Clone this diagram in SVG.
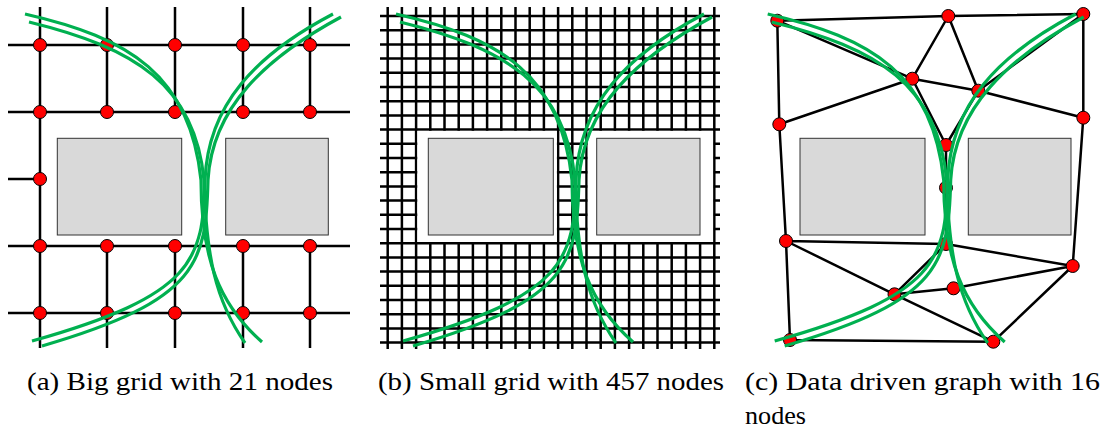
<svg xmlns="http://www.w3.org/2000/svg" xmlns:xlink="http://www.w3.org/1999/xlink" width="1107" height="430" viewBox="0 0 1107 430">
<style>
.edge{stroke:#000;stroke-width:2.5;fill:none;stroke-linecap:butt}
.obst{fill:#d9d9d9;stroke:#333;stroke-width:1}
.pad{fill:#fff;stroke:none}
.node{fill:#ff0000;stroke:#000;stroke-width:1}
.path{fill:none;stroke:#00b050;stroke-width:3.2}
.cap{font-family:"Liberation Serif","Times New Roman",serif;font-size:26px;fill:#000}
</style>
<defs>
<g id="curves">
<path class="path" d="M25,14 C130,38 190,75 201,180 C201,260 220,305 262,342"/>
<path class="path" d="M29,22 C135,48 195,85 204,180 C206,255 215,300 245,343"/>
<path class="path" d="M333,14 C255,55 208,105 205,180 C203,260 195,295 32,341"/>
<path class="path" d="M341,17 C265,58 212,108 208,180 C206,262 200,300 42,346"/>
</g>
</defs>

<!-- Panel (a) -->
<g id="panel-a">
<g id="connectors-a">
<path class="edge" d="M8,45H350M8,112H350M8,179H40M8,246H350M8,313H350"/>
<path class="edge" d="M40,7V348M107,7V112M107,246V348M175,7V112M175,246V348M243,7V112M243,246V348M310,7V112M310,246V348"/>
</g>
<rect id="obstacle-a1" class="obst" x="57.3" y="138.3" width="124.4" height="96.7"/>
<rect id="obstacle-a2" class="obst" x="225.7" y="138.3" width="102.6" height="96.7"/>
<g id="nodes-a">
<g id="a-n1"><circle class="node" cx="40" cy="45" r="6.5"/></g>
<g id="a-n2"><circle class="node" cx="107" cy="45" r="6.5"/></g>
<g id="a-n3"><circle class="node" cx="175" cy="45" r="6.5"/></g>
<g id="a-n4"><circle class="node" cx="243" cy="45" r="6.5"/></g>
<g id="a-n5"><circle class="node" cx="310" cy="45" r="6.5"/></g>
<g id="a-n6"><circle class="node" cx="40" cy="112" r="6.5"/></g>
<g id="a-n7"><circle class="node" cx="107" cy="112" r="6.5"/></g>
<g id="a-n8"><circle class="node" cx="175" cy="112" r="6.5"/></g>
<g id="a-n9"><circle class="node" cx="243" cy="112" r="6.5"/></g>
<g id="a-n10"><circle class="node" cx="310" cy="112" r="6.5"/></g>
<g id="a-n11"><circle class="node" cx="40" cy="179" r="6.5"/></g>
<g id="a-n12"><circle class="node" cx="40" cy="246" r="6.5"/></g>
<g id="a-n13"><circle class="node" cx="107" cy="246" r="6.5"/></g>
<g id="a-n14"><circle class="node" cx="175" cy="246" r="6.5"/></g>
<g id="a-n15"><circle class="node" cx="243" cy="246" r="6.5"/></g>
<g id="a-n16"><circle class="node" cx="310" cy="246" r="6.5"/></g>
<g id="a-n17"><circle class="node" cx="40" cy="313" r="6.5"/></g>
<g id="a-n18"><circle class="node" cx="107" cy="313" r="6.5"/></g>
<g id="a-n19"><circle class="node" cx="175" cy="313" r="6.5"/></g>
<g id="a-n20"><circle class="node" cx="243" cy="313" r="6.5"/></g>
<g id="a-n21"><circle class="node" cx="310" cy="313" r="6.5"/></g>
</g>
<use xlink:href="#curves" href="#curves"/>
</g>

<!-- Panel (b) -->
<g id="panel-b">
<g id="connectors-b">
<path class="edge" d="M380,16H720M380,30.2H720M380,44.4H720M380,58.6H720M380,72.8H720M380,87H720M380,101.2H720M380,115.4H720M380,129.6H720M380,143.8H720M380,158H720M380,172.2H720M380,186.4H720M380,200.6H720M380,214.8H720M380,229H720M380,243.2H720M380,257.4H720M380,271.6H720M380,285.8H720M380,300H720M380,314.2H720M380,328.4H720M380,342.6H720"/>
<path class="edge" d="M387.7,7V349M401.9,7V349M416.1,7V349M430.3,7V349M444.5,7V349M458.7,7V349M472.9,7V349M487.1,7V349M501.3,7V349M515.5,7V349M529.7,7V349M543.9,7V349M558.1,7V349M572.3,7V349M586.5,7V349M600.7,7V349M614.9,7V349M629.1,7V349M643.3,7V349M657.5,7V349M671.7,7V349M685.9,7V349M700.1,7V349M714.3,7V349"/>
</g>
<rect class="pad" x="417.3" y="130.9" width="139.6" height="111.1"/>
<rect class="pad" x="587.7" y="130.9" width="125.4" height="111.1"/>
<rect id="obstacle-b1" class="obst" x="428.3" y="138.3" width="125" height="96.7"/>
<rect id="obstacle-b2" class="obst" x="596.7" y="138.3" width="103.3" height="96.7"/>
<use xlink:href="#curves" href="#curves" transform="translate(371,0)"/>
</g>

<!-- Panel (c) -->
<g id="panel-c">
<g id="connectors-c">
<path class="edge" d="M777.3,20.7L948.3,16M948.3,16L1083.3,14M777.3,20.7L912.3,78.7M948.3,16L912.3,78.7M948.3,16L978.3,90.7M1083.3,14L978.3,90.7M1083.3,14L1083.3,117.7M912.3,78.7L978.3,90.7M912.3,78.7L779.3,124.3M978.3,90.7L1083.3,117.7M777.3,20.7L779.3,124.3M912.3,78.7L946,145M978.3,90.7L946,145M946,145L946,187.7M946,187.7L946,244M779.3,124.3L786,241M1083.3,117.7L1072.7,266M786,241L946,244M946,244L1072.7,266M786,241L894.5,294.3M786,241L790,340M946,244L894.5,294.3M894.5,294.3L953.5,288.3M953.5,288.3L1072.7,266M894.5,294.3L993.3,341.7M790,340L993.3,341.7M1072.7,266L993.3,341.7"/>
</g>
<rect id="obstacle-c1" class="obst" x="800" y="138.3" width="125" height="96.7"/>
<rect id="obstacle-c2" class="obst" x="968.3" y="138.3" width="102.7" height="96.7"/>
<g id="nodes-c">
<g id="c-n1"><circle class="node" cx="777.3" cy="20.7" r="6.5"/></g>
<g id="c-n2"><circle class="node" cx="948.3" cy="16" r="6.5"/></g>
<g id="c-n3"><circle class="node" cx="1083.3" cy="14" r="6.5"/></g>
<g id="c-n4"><circle class="node" cx="912.3" cy="78.7" r="6.5"/></g>
<g id="c-n5"><circle class="node" cx="978.3" cy="90.7" r="6.5"/></g>
<g id="c-n6"><circle class="node" cx="779.3" cy="124.3" r="6.5"/></g>
<g id="c-n7"><circle class="node" cx="1083.3" cy="117.7" r="6.5"/></g>
<g id="c-n8"><circle class="node" cx="946" cy="145" r="6.5"/></g>
<g id="c-n9"><circle class="node" cx="946" cy="187.7" r="6.5"/></g>
<g id="c-n10"><circle class="node" cx="786" cy="241" r="6.5"/></g>
<g id="c-n11"><circle class="node" cx="946" cy="244" r="6.5"/></g>
<g id="c-n12"><circle class="node" cx="1072.7" cy="266" r="6.5"/></g>
<g id="c-n13"><circle class="node" cx="953.5" cy="288.3" r="6.5"/></g>
<g id="c-n14"><circle class="node" cx="894.5" cy="294.3" r="6.5"/></g>
<g id="c-n15"><circle class="node" cx="790" cy="340" r="6.5"/></g>
<g id="c-n16"><circle class="node" cx="993.3" cy="341.7" r="6.5"/></g>
</g>
<use xlink:href="#curves" href="#curves" transform="translate(742.7,0)"/>
</g>

<!-- Captions -->
<g id="captions">
<text class="cap" x="27" y="390" textLength="306" lengthAdjust="spacingAndGlyphs">(a) Big grid with 21 nodes</text>
<text class="cap" x="378" y="390" textLength="346" lengthAdjust="spacingAndGlyphs">(b) Small grid with 457 nodes</text>
<text class="cap" x="745" y="390" textLength="355" lengthAdjust="spacingAndGlyphs">(c) Data driven graph with 16</text>
<text class="cap" x="745" y="424" textLength="61" lengthAdjust="spacingAndGlyphs">nodes</text>
</g>
</svg>
